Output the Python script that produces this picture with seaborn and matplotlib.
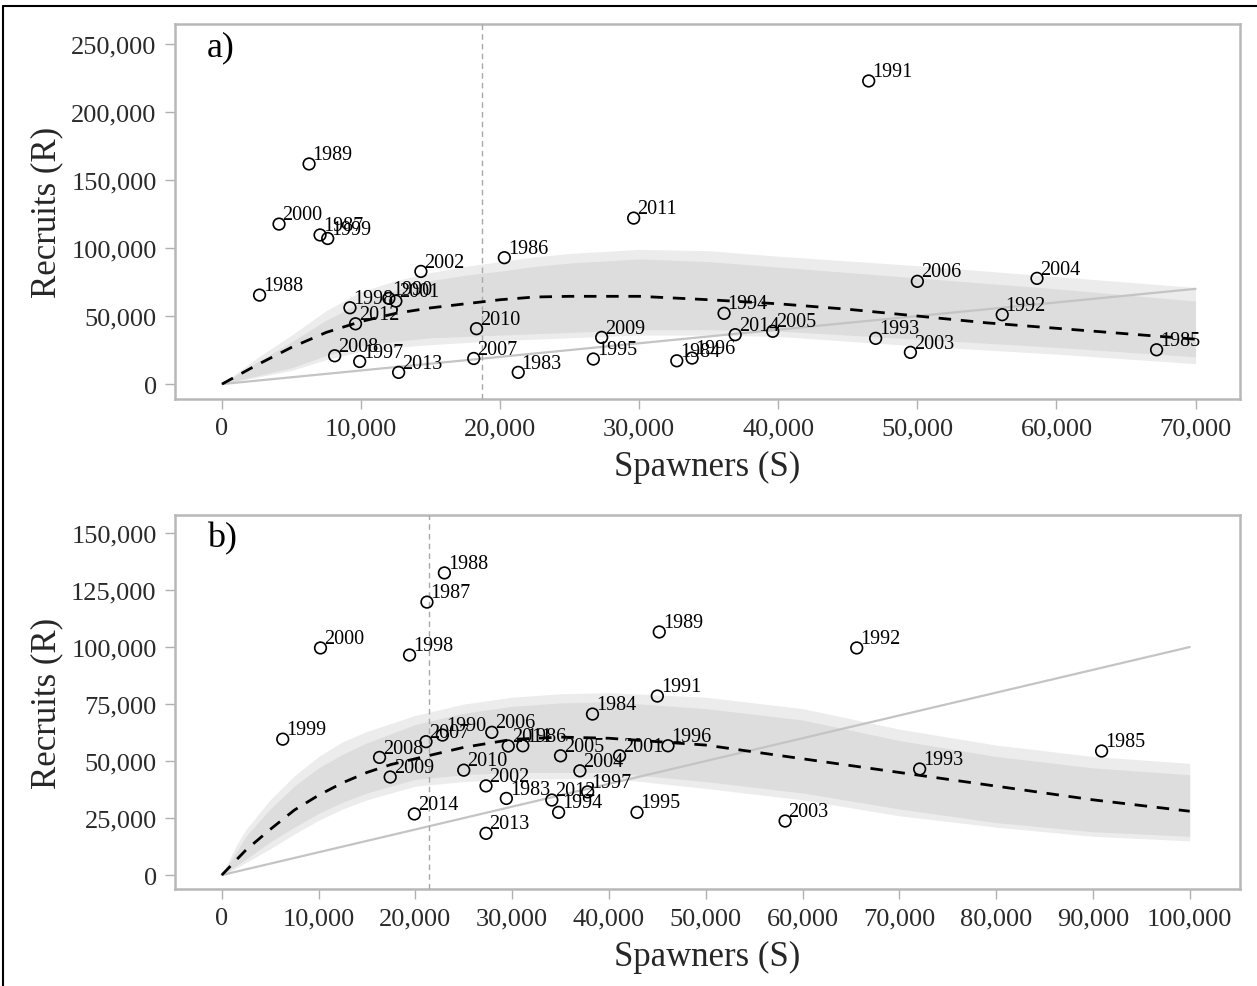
import numpy as np
import pandas as pd
import matplotlib
matplotlib.use("Agg")
import matplotlib.pyplot as plt
from matplotlib.ticker import FuncFormatter
import seaborn as sns

years = list(range(1983, 2015))

# panel a: spawners / recruits (thousands)
s_a = [21.3, 32.7, 67.2, 20.3, 7.05, 2.7, 6.26, 12.0, 46.5, 56.1, 47.0, 36.1, 26.7, 33.8, 9.9, 9.2,
       7.6, 4.1, 12.5, 14.3, 49.5, 58.6, 39.6, 50.0, 18.1, 8.1, 27.3, 18.3, 29.6, 9.6, 12.7, 36.9]
r_a = [8.6, 17.1, 25.2, 92.9, 109.6, 65.4, 161.8, 63.0, 222.8, 51.0, 33.6, 52.0, 18.4, 19.1, 16.6, 56.1,
       107.0, 117.6, 61.0, 82.8, 23.3, 77.7, 38.8, 75.5, 18.8, 20.8, 34.3, 40.7, 122.0, 44.3, 8.6, 36.3]

# panel b
s_b = [29.4, 38.3, 90.9, 31.1, 21.2, 23.0, 45.2, 22.8, 45.0, 65.6, 72.1, 34.8, 42.9, 46.1, 37.8, 19.4,
       6.3, 10.2, 41.1, 27.3, 58.2, 37.0, 35.0, 27.9, 21.1, 16.3, 17.4, 25.0, 29.6, 34.1, 27.3, 19.9]
r_b = [33.6, 70.6, 54.4, 56.7, 119.7, 132.5, 106.6, 61.4, 78.5, 99.6, 46.5, 27.5, 27.5, 56.7, 36.5, 96.5,
       59.6, 99.6, 52.3, 39.1, 23.7, 45.7, 52.3, 62.6, 58.5, 51.6, 43.0, 46.0, 56.6, 32.9, 18.3, 26.8]

# fitted curve + credible bands (thousands)
fit_x_a = [0, 2.5, 5, 7.5, 10, 12.5, 15, 17.5, 20, 22.5, 25, 30, 35, 40, 45, 50, 55, 60, 65, 70]
med_a = [0, 14, 27, 38, 46, 52, 56, 59, 62, 64, 64.5, 64.5, 62, 59, 55, 50, 45, 41, 37, 33]
band_x_a = [0, 2.5, 5, 7.5, 10, 12.5, 15, 17.5, 20, 22.5, 25, 30, 35, 40, 50, 60, 70]
outer_hi_a = [0, 19, 36, 54, 68, 76, 82, 86.5, 90, 93.5, 96, 99, 98, 94, 87, 79, 71]
inner_hi_a = [0, 16, 31, 47, 60, 69, 76, 80, 83, 86.5, 89, 92, 90, 86, 78, 70, 61]
inner_lo_a = [0, 6, 12, 21, 28, 31.5, 34, 35, 36, 37, 38, 40, 40, 39, 33, 27, 20]
outer_lo_a = [0, 5, 10, 18, 24, 27, 29, 30.5, 32, 33, 34, 36, 36, 35, 28, 22, 15]
smsy_a = 18.7

fit_x_b = [0, 2.5, 5, 7.5, 10, 12.5, 15, 17.5, 20, 25, 30, 35, 40, 50, 60, 70, 80, 90, 100]
med_b = [0, 11, 20, 28.5, 35, 40.5, 45, 48.5, 51, 56, 59.5, 60.5, 60, 57, 51, 45, 39, 33, 28]
band_x_b = [0, 1.5, 2.5, 5, 7.5, 10, 12.5, 15, 20, 25, 30, 35, 40, 50, 60, 70, 80, 90, 100]
outer_hi_b = [0, 13, 20, 33, 43.5, 52, 58.5, 63, 70, 75, 78, 79.5, 80, 78, 73, 64, 57, 52, 49]
inner_hi_b = [0, 10, 17, 29, 39, 47, 53, 58, 66, 71, 74, 75.5, 76, 73, 68, 59, 52, 47, 44]
inner_lo_b = [0, 4, 7, 14.5, 21, 27, 32, 36, 42, 44, 45, 45, 45, 41, 36, 29, 23, 19, 17]
outer_lo_b = [0, 3, 5.5, 11.5, 18, 24, 29, 33, 39, 41, 42, 42.3, 42.5, 38, 33, 26, 21, 17, 15]
smsy_b = 21.4

sns.set_style("white")
plt.rcParams['font.family'] = ['Liberation Serif', 'DejaVu Serif']

fig = plt.figure(figsize=(12.57, 9.87), dpi=100)
ax_a = fig.add_axes([0.139, 0.5947, 0.8475, 0.38])
ax_b = fig.add_axes([0.139, 0.0983, 0.8475, 0.3789])

fmt = FuncFormatter(lambda v, p: f"{int(round(v)):,}")


def panel(ax, tag, s, r, fx, med, bx, ohi, ihi, ilo, olo, smsy, xmax, xlim, ylim, yticks):
    k = 1000
    bx = np.array(bx) * k
    ax.fill_between(bx, np.array(olo) * k, np.array(ohi) * k, color="#ececec", lw=0, zorder=1)
    ax.fill_between(bx, np.array(ilo) * k, np.array(ihi) * k, color="#dddddd", lw=0, zorder=2)
    line = pd.DataFrame({"S": [0, xmax * k], "R": [0, xmax * k]})
    sns.lineplot(data=line, x="S", y="R", ax=ax, color="#c4c4c4", lw=1.6, zorder=3)
    curve = pd.DataFrame({"S": np.array(fx) * k, "R": np.array(med) * k})
    sns.lineplot(data=curve, x="S", y="R", ax=ax, color="black", lw=2.0, zorder=4,
                 linestyle=(0, (4.5, 3.5)), sort=False)
    ax.axvline(smsy * k, color="#a8a8a8", lw=1.0, ls=(0, (4, 3)), zorder=3)
    pts = pd.DataFrame({"S": np.array(s) * k, "R": np.array(r) * k})
    sns.scatterplot(data=pts, x="S", y="R", ax=ax, s=70, facecolor="none",
                    edgecolor="black", linewidth=1.2, zorder=5)
    for yr, sx, ry in zip(years, pts["S"], pts["R"]):
        ax.annotate(str(yr), (sx, ry), xytext=(2.5, 3.5),
                    textcoords="offset points", fontsize=14.5, ha="left",
                    va="baseline", color="black", zorder=6)
    ax.set_xlim(*xlim)
    ax.set_ylim(*ylim)
    ax.set_yticks(yticks)
    ax.xaxis.set_major_formatter(fmt)
    ax.yaxis.set_major_formatter(fmt)
    ax.set_xlabel("Spawners (S)", fontsize=25, labelpad=8)
    ax.set_ylabel("Recruits (R)", fontsize=25, labelpad=6)
    ax.tick_params(axis="both", which="major", labelsize=19, length=7, width=1,
                   color="#b0b0b0", labelcolor="#2a2a2a", direction="out",
                   bottom=True, left=True, pad=6)
    for sp in ax.spines.values():
        sp.set_color("#b8b8b8")
        sp.set_linewidth(1.8)
    ax.text(0.03, 0.94, tag, transform=ax.transAxes, fontsize=26,
            ha="left", va="center", color="black")


panel(ax_a, "a)", s_a, r_a, fit_x_a, med_a, band_x_a, outer_hi_a, inner_hi_a,
      inner_lo_a, outer_lo_a, smsy_a, 70, (-3400, 73200), (-11000, 264700),
      np.arange(0, 250001, 50000))
ax_a.set_xticks(np.arange(0, 70001, 10000))

panel(ax_b, "b)", s_b, r_b, fit_x_b, med_b, band_x_b, outer_hi_b, inner_hi_b,
      inner_lo_b, outer_lo_b, smsy_b, 100, (-4860, 105200), (-6100, 157900),
      np.arange(0, 150001, 25000))
ax_b.set_xticks(np.arange(0, 100001, 10000))

# outer frame of the figure
fig.add_artist(plt.Line2D([0.0025, 0.0025], [0, 0.993], color="black", lw=1.5,
                          transform=fig.transFigure))
fig.add_artist(plt.Line2D([0.0025, 1.0], [0.993, 0.993], color="black", lw=1.5,
                          transform=fig.transFigure))

fig.savefig("out.png", dpi=100)
